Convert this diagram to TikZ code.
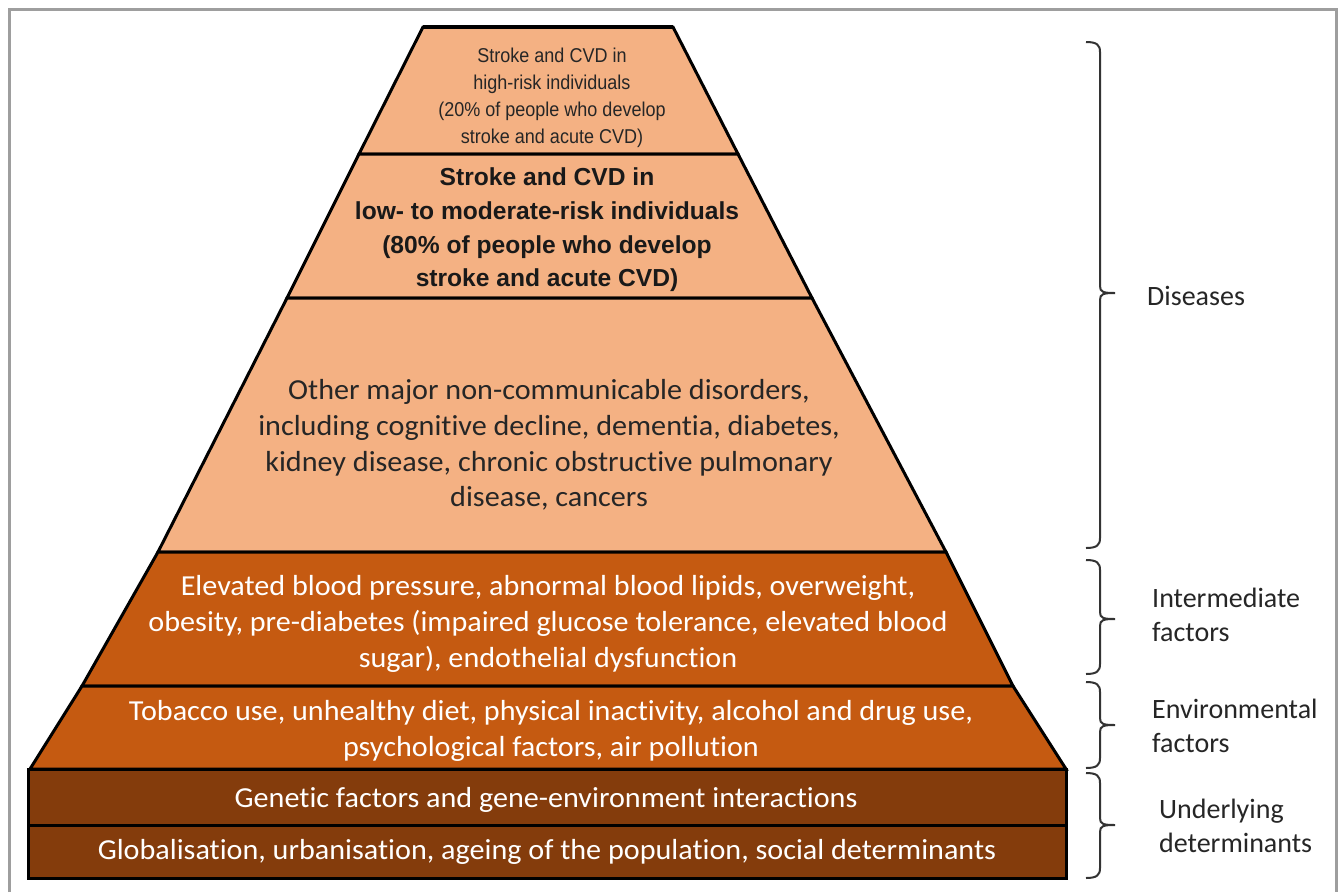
\documentclass[tikz,border=0pt]{standalone}
\usepackage{fontspec}
\setmainfont[Ligatures=NoCommon]{Carlito}
\newfontfamily\calw[Ligatures=NoCommon,FakeStretch=1.04]{Carlito}
\newfontfamily\arialn[FakeStretch=0.9]{Liberation Sans}
\newfontfamily\arialf{Liberation Sans}
\definecolor{lightor}{HTML}{F4B183}
\definecolor{midor}{HTML}{C55A11}
\definecolor{darkor}{HTML}{843C0C}
\newcommand\mybrace[4]{%
  \draw[brace] (1086,#1) .. controls (1097,#1) and (1100,#1+3) .. (1100,#1+10)
    -- (1100,#2-7) .. controls (1100,#2-1) and (1103,#2) .. (1115,#2)
    coordinate (#4)
    .. controls (1103,#2) and (1100,#2+1) .. (1100,#2+7)
    -- (1100,#3-10) .. controls (1100,#3-3) and (1097,#3) .. (1086,#3);}
\begin{document}
\begin{tikzpicture}[x=1pt,y=-1pt,
  layer/.style={draw=black,line width=3pt,line join=miter},
  txt/.style={align=center,inner sep=0pt,font=\calw\fontsize{29}{35.7}\selectfont},
  wtxt/.style={txt,text=white},
  lab/.style={anchor=west,align=left,inner sep=0pt,text=black!85,font=\fontsize{28}{34}\selectfont},
  brace/.style={draw=black!80,line width=2pt}]
\useasboundingbox (0,0) rectangle (1340,892);
\fill[white] (0,0) rectangle (1340,892);
\draw[black!38,line width=3pt] (9.5,892) -- (9.5,9.5) -- (1336,9.5) -- (1336,892);
% boundaries
\coordinate (L0) at (423,27);  \coordinate (R0) at (673,27);
\coordinate (L1) at (359,154); \coordinate (R1) at (738,154);
\coordinate (L2) at (287,298); \coordinate (R2) at (812,298);
\coordinate (L3) at (158,552); \coordinate (R3) at (946,552);
\coordinate (L4) at (82,686);  \coordinate (R4) at (1013,686);
\coordinate (L5) at (30,769);  \coordinate (R5) at (1066,769);
\coordinate (A0) at (28,769);  \coordinate (B0) at (1066,769);
\coordinate (A1) at (28,825);  \coordinate (B1) at (1066,825);
\coordinate (A2) at (28,878);  \coordinate (B2) at (1066,878);
% layers
\filldraw[layer,fill=lightor] (L0) -- (R0) -- (R1) -- (L1) -- cycle;
\filldraw[layer,fill=lightor] (L1) -- (R1) -- (R2) -- (L2) -- cycle;
\filldraw[layer,fill=lightor] (L2) -- (R2) -- (R3) -- (L3) -- cycle;
\filldraw[layer,fill=midor] (L3) -- (R3) -- (R4) -- (L4) -- cycle;
\filldraw[layer,fill=midor] (L4) -- (R4) -- (R5) -- (L5) -- cycle;
\filldraw[layer,fill=darkor] (A0) -- (B0) -- (B1) -- (A1) -- cycle;
\filldraw[layer,fill=darkor] (A1) -- (B1) -- (B2) -- (A2) -- cycle;
\draw[line width=4.5pt] (L0) -- (R0);
% texts
\node[align=center,inner sep=0pt,text=black!85,font=\arialn\fontsize{20}{27}\selectfont] (t1) at (552,98)
  {Stroke and CVD in\\high-risk individuals\\(20\% of people who develop\\stroke and acute CVD)};
\node[align=center,inner sep=0pt,text=black!90,font=\arialf\bfseries\fontsize{24.6}{33.7}\selectfont] (t2) at (547,230)
  {Stroke and CVD in\\low- to moderate-risk individuals\\(80\% of people who develop\\stroke and acute CVD)};
\node[txt,text=black!85] (t3) at (549,445)
  {Other major non-communicable disorders,\\including cognitive decline, dementia, diabetes,\\kidney disease, chronic obstructive pulmonary\\disease, cancers};
\node[wtxt] (t4) at (548,624)
  {Elevated blood pressure, abnormal blood lipids, overweight,\\obesity, pre-diabetes (impaired glucose tolerance, elevated blood\\sugar), endothelial dysfunction};
\node[wtxt] (t5) at (551,731)
  {Tobacco use, unhealthy diet, physical inactivity, alcohol and drug use,\\psychological factors, air pollution};
\node[wtxt] (t6) at (546,800) {Genetic factors and gene-environment interactions};
\node[wtxt] (t7) at (547,852) {Globalisation, urbanisation, ageing of the population, social determinants};
% braces
\mybrace{42}{293}{548}{bd}
\mybrace{560}{619}{674}{bi}
\mybrace{682}{725}{768}{be}
\mybrace{773}{825}{878}{bu}
% labels
\node[lab] (ld) at (1147,296) {Diseases};
\node[lab] (li) at (1152,615) {Intermediate\\factors};
\node[lab] (le) at (1152,726) {Environmental\\factors};
\node[lab] (lu) at (1159,826) {Underlying\\determinants};
\end{tikzpicture}
\end{document}
